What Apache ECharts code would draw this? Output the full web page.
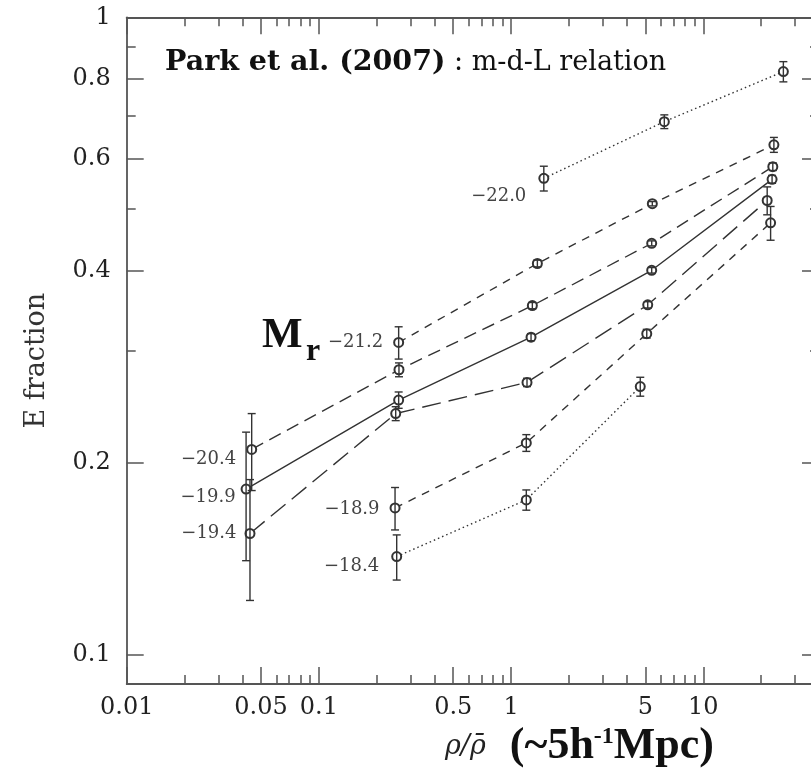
<!DOCTYPE html>
<html><head><meta charset="utf-8">
<script src="https://cdn.jsdelivr.net/npm/echarts@6/dist/echarts.min.js"></script>
<style>html,body{margin:0;padding:0;background:#fff}#c{width:811px;height:769px}</style>
</head><body><div id="c"></div>
<script>
// ---- data ----
const magnitudes = ['\u221222.0', '\u221221.2', '\u221220.4', '\u221219.9', '\u221219.4', '\u221218.9', '\u221218.4'];

const rho_m220 = [1.48, 6.27, 26.1];
const frac_m220 = [0.559, 0.686, 0.822];
const err_m220 = [0.025, 0.017, 0.030];

const rho_m212 = [0.26, 1.37, 5.43, 23.3];
const frac_m212 = [0.309, 0.411, 0.510, 0.631];
const err_m212 = [0.018, 0.005, 0.004, 0.017];

const rho_m204 = [0.0447, 0.261, 1.29, 5.39, 23.0];
const frac_m204 = [0.210, 0.280, 0.353, 0.442, 0.583];
const err_m204 = [0.029, 0.007, 0.004, 0.004, 0.008];

const rho_m199 = [0.0418, 0.260, 1.27, 5.39, 22.8];
const frac_m199 = [0.182, 0.251, 0.315, 0.401, 0.557];
const err_m199 = [0.0415, 0.0074, 0.004, 0.004, 0.008];

const rho_m194 = [0.0438, 0.251, 1.21, 5.14, 21.5];
const frac_m194 = [0.155, 0.239, 0.2675, 0.354, 0.516];
const err_m194 = [0.0333, 0.006, 0.004, 0.004, 0.026];

const rho_m189 = [0.249, 1.20, 5.08, 22.4];
const frac_m189 = [0.170, 0.215, 0.319, 0.476];
const err_m189 = [0.013, 0.0065, 0.005, 0.029];

const rho_m184 = [0.254, 1.20, 4.70];
const frac_m184 = [0.1426, 0.175, 0.2635];
const err_m184 = [0.0116, 0.0064, 0.009];

const xRange = [0.01, 40];
const yRange = [0.09, 1];
const xTickValues = [0.01, 0.05, 0.1, 0.5, 1, 5, 10];
const xTickLabels = ['0.01', '0.05', '0.1', '0.5', '1', '5', '10'];
const xMinorTicks = [0.02, 0.03, 0.04, 0.06, 0.07, 0.08, 0.09, 0.2, 0.3, 0.4, 0.6, 0.7, 0.8, 0.9, 2, 3, 4, 6, 7, 8, 9, 20, 30];
const yTickValues = [0.1, 0.2, 0.4, 0.6, 0.8, 1];
const yTickLabels = ['0.1', '0.2', '0.4', '0.6', '0.8', '1'];
const yMinorTicks = [0.3, 0.5, 0.7, 0.9];

// ---- styles ----
const seriesX = [rho_m220, rho_m212, rho_m204, rho_m199, rho_m194, rho_m189, rho_m184];
const seriesY = [frac_m220, frac_m212, frac_m204, frac_m199, frac_m194, frac_m189, frac_m184];
const seriesE = [err_m220, err_m212, err_m204, err_m199, err_m194, err_m189, err_m184];
const dashStyles = [[1.5, 3], [8, 7], [13, 7], 'solid', [19, 8], [8, 7], [1.5, 3]];
const labelOffsets = [[-2, 18], [0, 0], [0, 10], [5, 8], [2, 0], [0, 1], [-2, 10]];
const ink = '#333';
const lg = Math.log10;

function fmt(vals, labels) {
  return function (v) {
    const i = vals.findIndex(t => Math.abs(lg(t) - v) < 1e-6);
    return i >= 0 ? labels[i] : '';
  };
}
const axisLineStyle = { color: '#555', width: 1.8 };
const tickStyle = { color: '#555', width: 1.5 };

function xAx(pos, major, withLabel) {
  return {
    type: 'value', position: pos, min: lg(xRange[0]), max: lg(xRange[1]),
    axisLine: { show: major, lineStyle: axisLineStyle, onZero: false },
    axisTick: { show: true, inside: true, length: major ? 17 : 9, lineStyle: tickStyle,
      customValues: (major ? xTickValues : xMinorTicks).map(lg) },
    axisLabel: withLabel ? { show: true, customValues: xTickValues.map(lg), formatter: fmt(xTickValues, xTickLabels),
      fontFamily: 'DejaVu Serif', fontSize: 24, color: '#222', margin: 12 } : { show: false },
    splitLine: { show: false }
  };
}
function yAx(pos, major, withLabel) {
  const a = {
    type: 'value', position: pos, min: lg(yRange[0]), max: lg(yRange[1]),
    axisLine: { show: major, lineStyle: axisLineStyle, onZero: false },
    axisTick: { show: true, inside: true, length: major ? 17 : 9, lineStyle: tickStyle,
      customValues: (major ? yTickValues : yMinorTicks).map(lg) },
    axisLabel: withLabel ? { show: true, customValues: yTickValues.map(lg), formatter: fmt(yTickValues, yTickLabels),
      fontFamily: 'DejaVu Serif', fontSize: 24, color: '#222', margin: 16 } : { show: false },
    splitLine: { show: false }
  };
  if (withLabel) {
    a.name = 'E fraction';
    a.nameLocation = 'middle';
    a.nameGap = 76;
    a.nameRotate = 90;
    a.nameTextStyle = { fontFamily: 'DejaVu Serif', fontSize: 27, color: '#333', padding: [0, 20, 0, 0] };
  }
  return a;
}

const series = [];
magnitudes.forEach((m, k) => {
  const xs = seriesX[k], ys = seriesY[k], es = seriesE[k];
  series.push({
    type: 'line', name: m, xAxisIndex: 0, yAxisIndex: 0,
    data: xs.map((x, i) => {
      const d = { value: [lg(x), lg(ys[i])] };
      if (i === 0) d.label = { show: true, position: 'left', distance: 10, offset: labelOffsets[k],
        formatter: m, fontFamily: 'DejaVu Serif', fontSize: 18, color: '#444' };
      return d;
    }),
    symbol: 'emptyCircle', symbolSize: 9,
    itemStyle: { color: ink, borderWidth: 1.2 },
    lineStyle: { color: ink, width: 1.4, type: dashStyles[k] },
    z: 2
  });
  series.push({
    type: 'custom', xAxisIndex: 0, yAxisIndex: 0, silent: true, z: 4,
    data: xs.map((x, i) => [lg(x), lg(ys[i] + es[i]), lg(ys[i] - es[i])]),
    encode: { x: 0, y: [1, 2] },
    renderItem: function (params, api) {
      const t = api.coord([api.value(0), api.value(1)]);
      const b = api.coord([api.value(0), api.value(2)]);
      const w = 4, st = { stroke: ink, lineWidth: 1.4 };
      return { type: 'group', children: [
        { type: 'line', shape: { x1: t[0], y1: t[1], x2: b[0], y2: b[1] }, style: st },
        { type: 'line', shape: { x1: t[0] - w, y1: t[1], x2: t[0] + w, y2: t[1] }, style: st },
        { type: 'line', shape: { x1: b[0] - w, y1: b[1], x2: b[0] + w, y2: b[1] }, style: st }
      ] };
    }
  });
});

const chart = echarts.init(document.getElementById('c'), null, { renderer: 'canvas' });
chart.setOption({
  animation: false,
  backgroundColor: '#fff',
  grid: { left: 126.7, right: -8, top: 17.3, bottom: 85, containLabel: false, outerBoundsMode: 'none' },
  xAxis: [xAx('bottom', true, true), xAx('bottom', false, false), xAx('top', true, false), xAx('top', false, false)],
  yAxis: [yAx('left', true, true), yAx('left', false, false), yAx('right', true, false), yAx('right', false, false)],
  series: series,
  graphic: [
    { type: 'text', x: 165, y: 63, z: 10, style: {
      text: '{b|Park et al. (2007)}{n| : m-d-L relation}', verticalAlign: 'middle', align: 'left',
      rich: {
        b: { fontFamily: 'DejaVu Serif', fontWeight: 'bold', fontSize: 28.5, fill: '#111' },
        n: { fontFamily: 'DejaVu Serif', fontSize: 27, fill: '#111' }
      } } },
    { type: 'text', x: 262, y: 336, z: 10, style: { text: 'M', font: 'bold 43px "Liberation Serif"', fill: '#111', verticalAlign: 'middle', align: 'left' } },
    { type: 'text', x: 306, y: 352, z: 10, style: { text: 'r', font: 'bold 32px "Liberation Serif"', fill: '#111', verticalAlign: 'middle', align: 'left' } },
    { type: 'text', x: 445, y: 747, z: 10, style: {
      text: '{i|\u03c1/\u03c1\u0304}{g| }{b|(~5h}{s|-1}{b|Mpc)}', verticalAlign: 'middle', align: 'left',
      rich: {
        i: { fontFamily: 'DejaVu Serif', fontStyle: 'italic', fontSize: 27, fill: '#222' },
        g: { width: 24, fontSize: 24 },
        b: { fontFamily: 'Liberation Serif', fontWeight: 'bold', fontSize: 44, fill: '#111' },
        s: { fontFamily: 'Liberation Serif', fontWeight: 'bold', fontSize: 24, fill: '#111', verticalAlign: 'top' }
      } } }
  ]
});
</script></body></html>
